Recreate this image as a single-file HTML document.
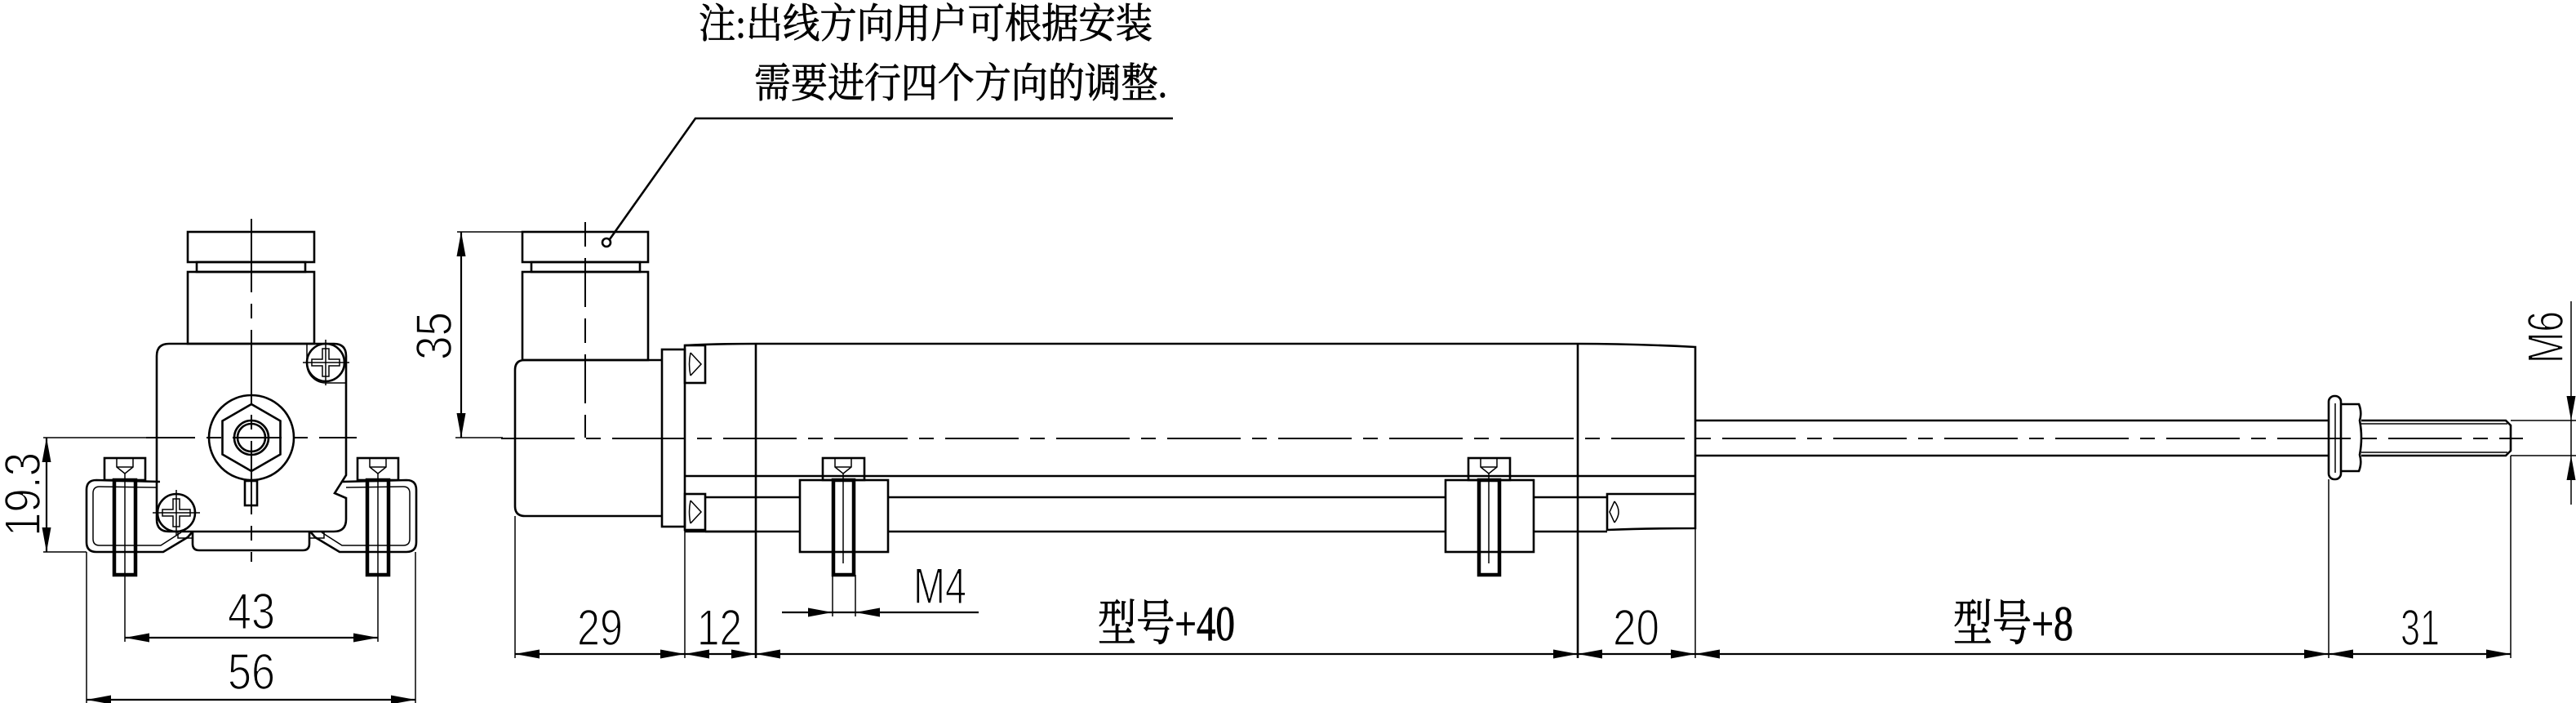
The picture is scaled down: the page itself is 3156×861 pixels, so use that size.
<!DOCTYPE html>
<html><head><meta charset="utf-8"><style>
html,body{margin:0;padding:0;background:#fff;}
svg{display:block;}
.o{fill:none;stroke:#000;stroke-width:2.6;}
.t{fill:none;stroke:#000;stroke-width:1.5;}
.d{fill:none;stroke:#000;stroke-width:2.2;}
.c{fill:none;stroke:#000;stroke-width:2;stroke-dasharray:90 14 18 14;}
.k{fill:none;stroke:#000;stroke-width:4.5;}
.num{font-family:"Liberation Sans",sans-serif;font-size:62px;font-weight:normal;fill:#000;stroke:#fff;stroke-width:1.6;}
.cjk{font-family:"Liberation Serif","Noto Serif CJK SC",serif;fill:#000;stroke:#000;stroke-width:0.8;}
</style></head><body>
<svg width="3156" height="861" viewBox="0 0 3156 861" xmlns="http://www.w3.org/2000/svg">
<text class="cjk" x="856" y="46" font-size="50" textLength="556" lengthAdjust="spacingAndGlyphs">注:出线方向用户可根据安装</text>
<text class="cjk" x="924" y="119" font-size="50" textLength="506" lengthAdjust="spacingAndGlyphs">需要进行四个方向的调整.</text>
<polyline class="o" points="1437,145 852,145 747,293"/>
<circle class="o" cx="743" cy="297" r="5"/>

<!-- LEFT VIEW -->
<rect class="o" x="230" y="284" width="155" height="37"/>
<rect class="o" x="241" y="321" width="133" height="12"/>
<rect class="o" x="230" y="333" width="155" height="88"/>
<path class="o" d="M207,421 L409,421 Q424,421 424,436 L424,582 L410,604 L424,610 L424,636 Q424,651 409,651 L207,651 Q192,651 192,636 L192,436 Q192,421 207,421 Z"/>
<path class="o" d="M236,651 L236,666 Q236,674 244,674 L371,674 Q379,674 379,666 L379,651"/>
<rect class="t" x="218" y="651" width="18" height="8"/>
<rect class="t" x="379" y="651" width="18" height="8"/>
<rect class="o" x="300" y="589" width="15" height="30"/>
<circle class="o" cx="308" cy="536" r="52"/>
<polygon class="o" points="308,495 343.5,515.5 343.5,556.5 308,577 272.5,556.5 272.5,515.5"/>
<circle class="o" cx="308" cy="536" r="21"/>
<circle class="o" cx="308" cy="536" r="17"/>
<path class="t" d="M376,421 L376,446 A23,23 0 0 0 399,469 L423,469"/>
<circle class="o" cx="399" cy="444" r="23"/>
<path class="t" d="M395,427 h8 v13 h13 v8 h-13 v13 h-8 v-13 h-13 v-8 h13 z"/>
<line class="t" x1="399" y1="416" x2="399" y2="472"/><line class="t" x1="371" y1="444" x2="428" y2="444"/>
<circle class="o" cx="216" cy="628" r="23" fill="#fff"/>
<path class="t" d="M212,611 h8 v13 h13 v8 h-13 v13 h-8 v-13 h-13 v-8 h13 z"/>
<line class="t" x1="216" y1="600" x2="216" y2="656"/><line class="t" x1="187" y1="628" x2="245" y2="628"/>
<g id="brk">
<path class="o" d="M196,590 L118,588 Q106,588 106,600 L106,664 Q106,676 118,676 L200,676 L230,658 L236,651"/>
<path class="t" d="M192,597 L122,596 Q114,596 114,604 L114,660 Q114,668 122,668 L197,668 L222,652"/>
<rect class="o" x="128" y="561" width="50" height="27"/>
<polyline class="t" points="143,561 143,572 153,580 163,572 163,561"/>
<line class="t" x1="143" y1="572" x2="163" y2="572"/>
<rect class="k" x="140" y="588" width="26" height="116"/>
<line class="t" x1="153" y1="580" x2="153" y2="704"/>
</g>
<use href="#brk" transform="translate(616,0) scale(-1,1)"/>
<line class="c" x1="308" y1="268" x2="308" y2="688"/>
<line class="c" x1="179" y1="536" x2="437" y2="536" style="stroke-dasharray:60 14 18 14"/>
<line class="t" x1="53" y1="536" x2="179" y2="536"/>
<line class="t" x1="53" y1="676" x2="106" y2="676"/>
<line class="d" x1="57" y1="536" x2="57" y2="676"/>
<polygon points="57,536 51.5,566 62.5,566"/><polygon points="57,676 51.5,646 62.5,646"/>
<text class="num" transform="translate(49,657) rotate(-90)" textLength="103" lengthAdjust="spacingAndGlyphs">19.3</text>
<line class="t" x1="153" y1="704" x2="153" y2="786"/><line class="t" x1="463" y1="704" x2="463" y2="786"/>
<line class="d" x1="153" y1="781" x2="463" y2="781"/>
<polygon points="153,781 183,775.5 183,786.5"/><polygon points="463,781 433,775.5 433,786.5"/>
<text class="num" x="279" y="770" textLength="58" lengthAdjust="spacingAndGlyphs">43</text>
<line class="t" x1="106" y1="676" x2="106" y2="861"/><line class="t" x1="509" y1="676" x2="509" y2="861"/>
<line class="d" x1="106" y1="857" x2="509" y2="857"/>
<polygon points="106,857 136,851.5 136,862.5"/><polygon points="509,857 479,851.5 479,862.5"/>
<text class="num" x="279" y="844" textLength="58" lengthAdjust="spacingAndGlyphs">56</text>

<!-- MAIN VIEW -->
<rect class="o" x="640" y="284" width="154" height="37"/>
<rect class="o" x="651" y="321" width="133" height="12"/>
<rect class="o" x="640" y="333" width="154" height="108"/>
<path class="o" d="M811,441 L643,441 Q631,441 631,453 L631,620 Q631,632 643,632 L811,632"/>
<rect class="o" x="811" y="428" width="28" height="217"/>
<path class="o" d="M839,423 Q880,421 926,421 M839,651 Q880,651 926,651"/>
<line class="t" x1="839" y1="423" x2="839" y2="806"/>
<rect class="o" x="839" y="423" width="25" height="46"/>
<path class="t" d="M846,432 L859,446 L846,460 M846,432 Q843,446 846,460"/>
<rect class="o" x="839" y="605" width="25" height="44"/>
<path class="t" d="M846,613 L859,627 L846,641 M846,613 Q843,627 846,641"/>
<line class="o" x1="926" y1="421" x2="1933" y2="421"/>
<line class="o" x1="839" y1="583" x2="2077" y2="583"/>
<line class="o" x1="864" y1="609" x2="980" y2="609"/><line class="o" x1="1088" y1="609" x2="1771" y2="609"/><line class="o" x1="1879" y1="609" x2="1969" y2="609"/>
<line class="o" x1="864" y1="651" x2="980" y2="651"/><line class="o" x1="1088" y1="651" x2="1771" y2="651"/><line class="o" x1="1879" y1="651" x2="1969" y2="651"/>
<line class="o" x1="926" y1="421" x2="926" y2="806"/>
<line class="o" x1="1933" y1="421" x2="1933" y2="806"/>
<path class="o" d="M1933,421 Q2000,421 2077,425 L2077,647 Q2020,647 1969,649 L1969,605 L2077,605"/>
<path class="t" d="M1978,614 L1972,627 L1978,640 M1978,614 Q1988,627 1978,640"/>
<line class="t" x1="2077" y1="647" x2="2077" y2="806"/>
<g id="clamp">
<rect class="o" x="980" y="588" width="108" height="88"/>
<rect class="o" x="1008" y="561" width="51" height="27"/>
<polyline class="t" points="1023,561 1023,572 1033,580 1043,572 1043,561"/>
<line class="t" x1="1023" y1="572" x2="1043" y2="572"/>
<rect class="k" x="1021" y="588" width="25" height="116" fill="#fff"/>
<line class="t" x1="1033" y1="580" x2="1033" y2="690"/>
</g>
<use href="#clamp" transform="translate(791,0)"/>
<line class="o" x1="2077" y1="515" x2="2853" y2="515"/>
<line class="o" x1="2077" y1="558" x2="2853" y2="558"/>
<rect class="o" x="2853" y="485" width="15" height="102" rx="7"/>
<line class="t" x1="2861" y1="494" x2="2861" y2="579"/>
<path class="o" d="M2868,495 L2890,495 Q2894,505 2891,515 Q2895,536 2891,557 Q2894,567 2890,577 L2868,577"/>
<path class="o" d="M2893,515 L3070,515 L3076,521 L3076,552 L3070,558 L2893,558"/>
<line class="t" x1="2893" y1="519" x2="3072" y2="519"/>
<line class="t" x1="2893" y1="554" x2="3072" y2="554"/>
<line class="c" x1="614" y1="537" x2="3091" y2="537"/>
<line class="c" x1="717" y1="272" x2="717" y2="536" style="stroke-dasharray:30 14 60 14"/>
<line class="t" x1="560" y1="284" x2="640" y2="284"/>
<line class="t" x1="558" y1="536" x2="616" y2="536"/>
<line class="d" x1="565" y1="284" x2="565" y2="536"/>
<polygon points="565,284 559.5,314 570.5,314"/><polygon points="565,536 559.5,506 570.5,506"/>
<text class="num" transform="translate(553,441) rotate(-90)" textLength="59" lengthAdjust="spacingAndGlyphs">35</text>
<line class="t" x1="3076" y1="515" x2="3156" y2="515"/>
<line class="t" x1="3076" y1="558" x2="3156" y2="558"/>
<line class="t" x1="3150" y1="369" x2="3150" y2="618"/>
<polygon points="3150,515 3144.5,485 3155.5,485"/><polygon points="3150,558 3144.5,588 3155.5,588"/>
<text class="num" transform="translate(3140,445) rotate(-90)" textLength="64" lengthAdjust="spacingAndGlyphs">M6</text>
<line class="t" x1="1020" y1="704" x2="1020" y2="755"/>
<line class="t" x1="1048" y1="704" x2="1048" y2="755"/>
<line class="d" x1="958" y1="750" x2="1199" y2="750"/>
<polygon points="1020,750 990,744.5 990,755.5"/><polygon points="1048,750 1078,744.5 1078,755.5"/>
<text class="num" x="1119" y="739" textLength="65" lengthAdjust="spacingAndGlyphs">M4</text>
<line class="t" x1="631" y1="632" x2="631" y2="806"/>
<line class="t" x1="2853" y1="587" x2="2853" y2="806"/>
<line class="t" x1="3076" y1="558" x2="3076" y2="806"/>
<line class="d" x1="631" y1="801" x2="3076" y2="801"/>
<polygon points="631,801 661,795.5 661,806.5"/><polygon points="839,801 809,795.5 809,806.5"/>
<polygon points="839,801 869,795.5 869,806.5"/><polygon points="926,801 896,795.5 896,806.5"/>
<polygon points="926,801 956,795.5 956,806.5"/><polygon points="1933,801 1903,795.5 1903,806.5"/>
<polygon points="1933,801 1963,795.5 1963,806.5"/><polygon points="2077,801 2047,795.5 2047,806.5"/>
<polygon points="2077,801 2107,795.5 2107,806.5"/><polygon points="2853,801 2823,795.5 2823,806.5"/>
<polygon points="2853,801 2883,795.5 2883,806.5"/><polygon points="3076,801 3046,795.5 3046,806.5"/>
<text class="num" x="707" y="790" textLength="56" lengthAdjust="spacingAndGlyphs">29</text>
<text class="num" x="854" y="790" textLength="55" lengthAdjust="spacingAndGlyphs">12</text>
<text class="num" x="1976" y="790" textLength="57" lengthAdjust="spacingAndGlyphs">20</text>
<text class="num" x="2941" y="790" textLength="48" lengthAdjust="spacingAndGlyphs">31</text>
<text class="cjk" x="1345" y="784" font-size="60" textLength="168" lengthAdjust="spacingAndGlyphs">型号+40</text>
<text class="cjk" x="2393" y="784" font-size="60" textLength="147" lengthAdjust="spacingAndGlyphs">型号+8</text>
</svg>
</body></html>
